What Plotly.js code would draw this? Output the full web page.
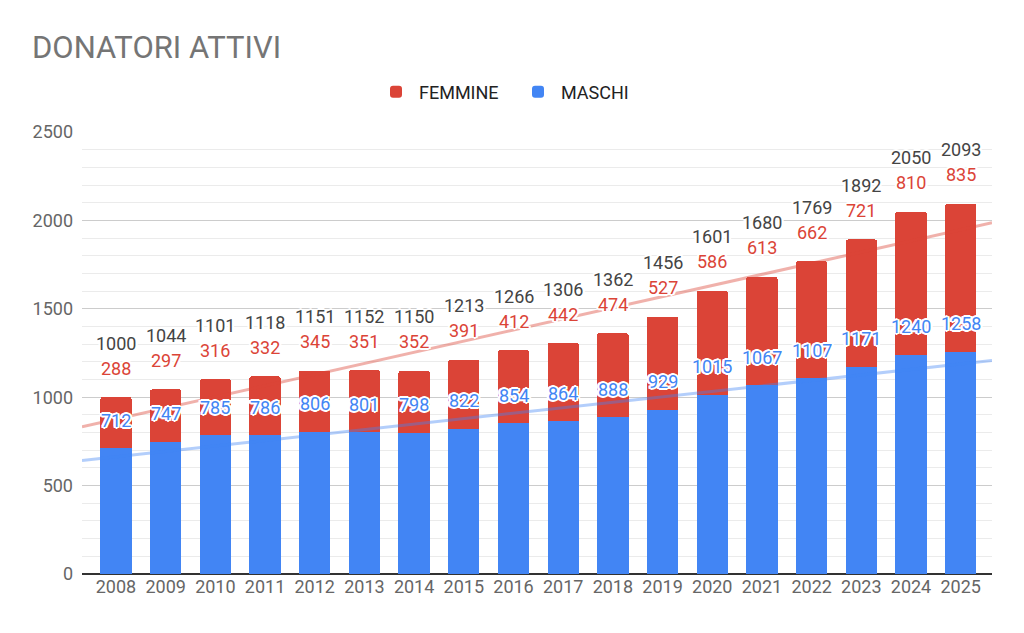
<!DOCTYPE html>
<html>
<head>
<meta charset="utf-8">
<script src="https://cdn.plot.ly/plotly-3.0.1.min.js"></script>
<style>
  html, body { margin: 0; padding: 0; background: #fff; }
  #plot { width: 1024px; height: 633px; }
</style>
</head>
<body>
<div id="plot"></div>
<script>
// years on the x axis
var anni = ["2008", "2009", "2010", "2011", "2012", "2013", "2014", "2015", "2016",
            "2017", "2018", "2019", "2020", "2021", "2022", "2023", "2024", "2025"];

// active donors by sex
var maschi  = [712, 747, 785, 786, 806, 801, 798, 822, 854, 864, 888, 929, 1015, 1067, 1107, 1171, 1240, 1258];
var femmine = [288, 297, 316, 332, 345, 351, 352, 391, 412, 442, 474, 527, 586, 613, 662, 721, 810, 835];

var rosso = "#db4437";
var blu = "#4285f4";

var idx = anni.map(function (a, i) { return i; });
var totali = maschi.map(function (m, i) { return m + femmine[i]; });

var xRange = [-0.684, 17.63];

// least squares line, like the sheet's linear trendline
function trend(ys) {
  var n = ys.length, sx = 0, sy = 0, sxy = 0, sxx = 0;
  ys.forEach(function (y, i) { sx += i; sy += y; sxy += i * y; sxx += i * i; });
  var b = (n * sxy - sx * sy) / (n * sxx - sx * sx);
  var a = (sy - b * sx) / n;
  return { x: xRange, y: xRange.map(function (x) { return a + b * x; }) };
}

var barM = {
  x: idx, y: maschi, type: "bar", name: "MASCHI",
  marker: { color: blu }, width: 0.63, hoverinfo: "y"
};
var barF = {
  x: idx, y: femmine, type: "bar", name: "FEMMINE",
  marker: { color: rosso }, width: 0.63, hoverinfo: "y"
};

var tF = trend(totali);
var tM = trend(maschi);
var trendF = {
  x: tF.x, y: tF.y, mode: "lines", type: "scatter", showlegend: false,
  line: { color: "rgba(219,68,55,0.42)", width: 3 }, hoverinfo: "skip"
};
var trendM = {
  x: tM.x, y: tM.y, mode: "lines", type: "scatter", showlegend: false,
  line: { color: "rgba(66,133,244,0.4)", width: 3 }, hoverinfo: "skip"
};

var halo = "2px 0 0 #fff, -2px 0 0 #fff, 0 2px 0 #fff, 0 -2px 0 #fff, " +
           "1px 1px 0 #fff, -1px -1px 0 #fff, 1px -1px 0 #fff, -1px 1px 0 #fff, " +
           "2px 1px 0 #fff, -2px 1px 0 #fff, 2px -1px 0 #fff, -2px -1px 0 #fff";

function etichette(ys, testi, shift, colore) {
  return ys.map(function (y, i) {
    return {
      x: i, y: y, xref: "x", yref: "y", text: String(testi[i]),
      showarrow: false, yanchor: "middle", yshift: shift,
      font: { family: "Roboto, Arial, sans-serif", size: 18, color: colore, shadow: halo }
    };
  });
}

var annotations = []
  .concat(etichette(maschi, maschi, 28, blu))
  .concat(etichette(totali, femmine, 29, rosso))
  .concat(etichette(totali, totali, 54, "#444444"));

var layout = {
  width: 1024, height: 633,
  margin: { l: 82, r: 32, t: 132, b: 59 },
  paper_bgcolor: "#fff", plot_bgcolor: "#fff",
  font: { family: "Roboto, Arial, sans-serif", color: "#666" },
  barmode: "stack",
  barcornerradius: 2,
  title: {
    text: "DONATORI ATTIVI",
    font: { family: "Roboto, Arial, sans-serif", size: 31, color: "#757575" },
    x: 32 / 1024, xref: "container", xanchor: "left",
    y: 1 - 47 / 633, yref: "container", yanchor: "middle"
  },
  legend: {
    orientation: "h", traceorder: "reversed",
    x: 515 / 1024, xref: "container", xanchor: "center",
    y: 1 - 92 / 633, yref: "container", yanchor: "middle",
    font: { family: "Roboto, Arial, sans-serif", size: 18, color: "#222" },
    itemwidth: 36, entrywidth: 91
  },
  xaxis: {
    range: xRange, tickmode: "array", tickvals: idx, ticktext: anni,
    showgrid: false, zeroline: false, showline: false, ticks: "",
    tickfont: { size: 18, color: "#666" }
  },
  yaxis: {
    range: [0, 2500], dtick: 500, tick0: 0,
    showgrid: true, gridcolor: "#cccccc", gridwidth: 1,
    minor: { dtick: 100, showgrid: true, gridcolor: "#ebebeb", gridwidth: 1 },
    zeroline: true, zerolinecolor: "#333", zerolinewidth: 1.5,
    ticks: "", tickfont: { size: 18, color: "#666" }, ticklabelstandoff: 8
  },
  annotations: annotations,
  showlegend: true
};

Plotly.newPlot("plot", [barM, barF, trendM, trendF], layout, { displayModeBar: false, staticPlot: true });
</script>
</body>
</html>
